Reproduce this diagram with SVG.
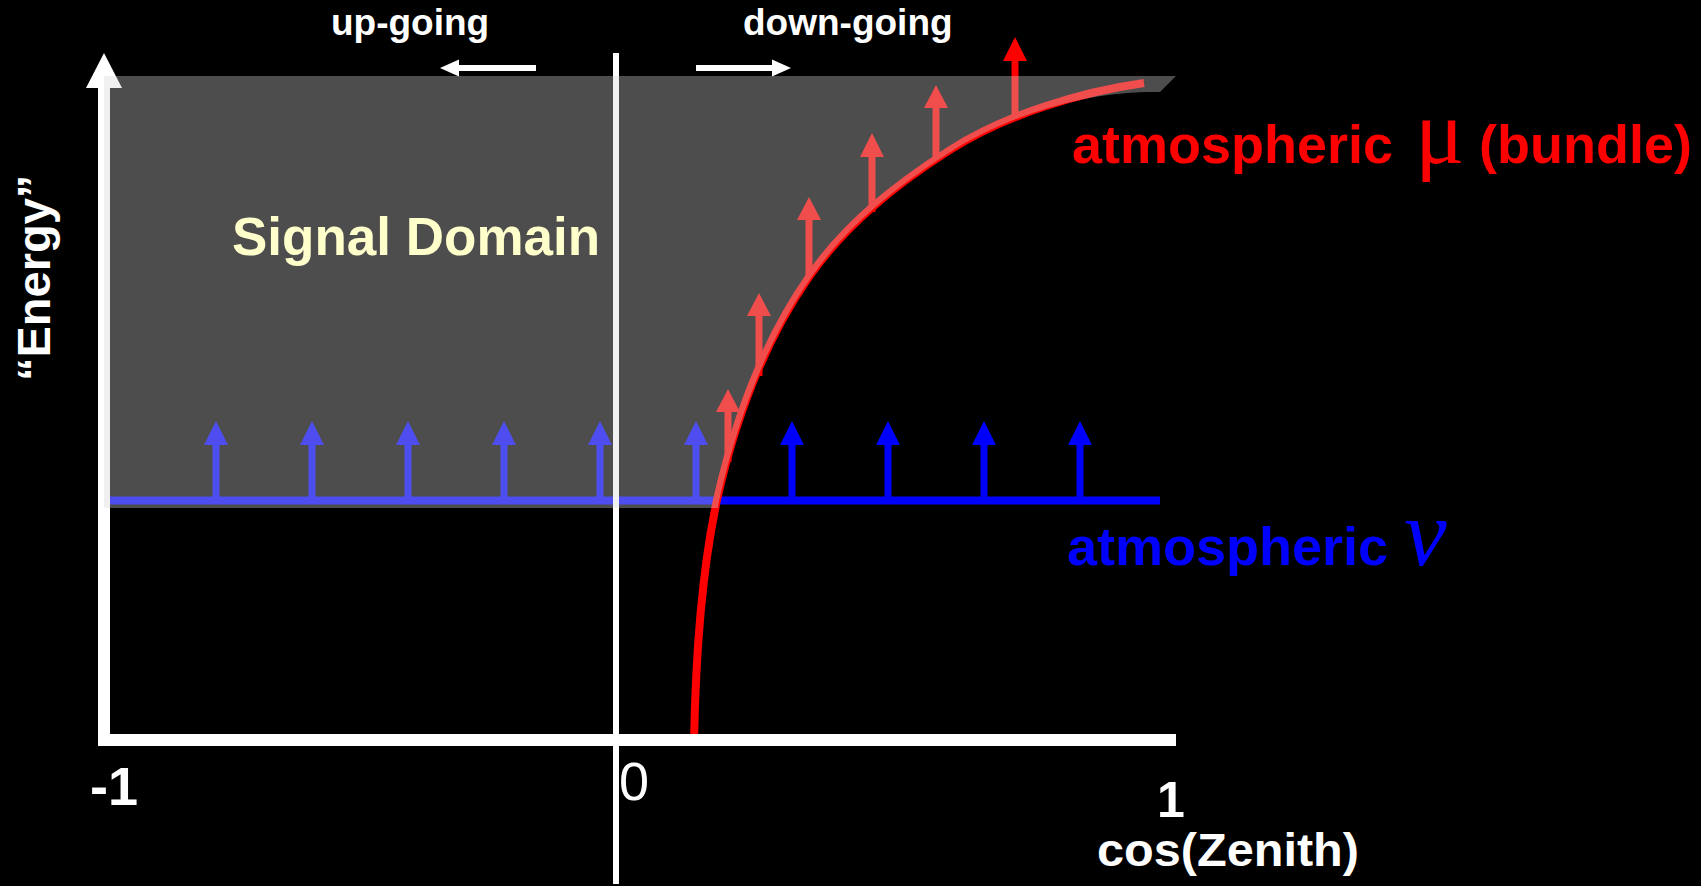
<svg xmlns="http://www.w3.org/2000/svg" width="1701" height="886" viewBox="0 0 1701 886">
<style>
  .sans { font-family: "Liberation Sans", Arial, sans-serif; font-weight: bold; }
  .serif { font-family: "Liberation Serif", "Times New Roman", serif; font-weight: normal; }
  .white { fill: #ffffff; }
</style>
<defs>
  <g id="blueArrow">
    <line x1="0" y1="500" x2="0" y2="443" stroke="#0000ff" stroke-width="7"/>
    <polygon points="0,421 12,445 -12,445" fill="#0000ff"/>
  </g>
</defs>
<rect x="0" y="0" width="1701" height="886" fill="#000000"/>

<g id="connectors">
  <!-- atmospheric neutrino level -->
  <line x1="104" y1="500.5" x2="1160" y2="500.5" stroke="#0000ff" stroke-width="8"/>
  <g id="nu-arrows">
    <use href="#blueArrow" x="216"/>
    <use href="#blueArrow" x="312"/>
    <use href="#blueArrow" x="408"/>
    <use href="#blueArrow" x="504"/>
    <use href="#blueArrow" x="600"/>
    <use href="#blueArrow" x="696"/>
    <use href="#blueArrow" x="792"/>
    <use href="#blueArrow" x="888"/>
    <use href="#blueArrow" x="984"/>
    <use href="#blueArrow" x="1080"/>
  </g>
  <!-- atmospheric muon curve -->
  <path d="M694,741 C696,640 704,560 717,500 C735,420 765,340 809,277 C845,225 895,185 950,150 C1005,115 1080,92 1144,83" fill="none" stroke="#ff0000" stroke-width="8"/>
  <g id="mu-arrows" fill="#ff0000" stroke="#ff0000">
    <line x1="728" y1="462" x2="728" y2="410" stroke-width="7"/>
    <polygon points="728,389 740,412 716,412" stroke="none"/>
    <line x1="759" y1="376" x2="759" y2="314" stroke-width="7"/>
    <polygon points="759,293 771,316 747,316" stroke="none"/>
    <line x1="809" y1="279" x2="809" y2="218" stroke-width="7"/>
    <polygon points="809,197 821,220 797,220" stroke="none"/>
    <line x1="872" y1="212" x2="872" y2="155" stroke-width="7"/>
    <polygon points="872,133 884,157 860,157" stroke="none"/>
    <line x1="936" y1="159" x2="936" y2="106" stroke-width="7"/>
    <polygon points="936,85 948,108 924,108" stroke="none"/>
    <line x1="1015" y1="117" x2="1015" y2="59" stroke-width="7"/>
    <polygon points="1015,37 1027,61 1003,61" stroke="none"/>
  </g>
</g>

<g id="axes">
  <line x1="616" y1="53" x2="616" y2="884" stroke="#ffffff" stroke-width="6"/>
  <line x1="104" y1="86" x2="104" y2="746" stroke="#ffffff" stroke-width="12"/>
  <polygon points="104,53 122,88 86,88" fill="#ffffff"/>
  <line x1="98" y1="740" x2="1176" y2="740" stroke="#ffffff" stroke-width="12"/>
</g>

<g id="signal-domain">
  <path d="M104,76 H1176 L1160,92 H1146 C1082,93 1007,116 952,151 C897,186 847,226 811,278 C767,341 737,421 719,501 L718,508 H104 Z" fill="#d5d5d5" fill-opacity="0.36"/>
  <text class="sans" x="232" y="255" font-size="53" fill="#ffffcc">Signal Domain</text>
</g>

<g id="direction">
  <line x1="536" y1="68" x2="456" y2="68" stroke="#ffffff" stroke-width="6"/>
  <polygon points="440,68 459,59.5 459,76.5" fill="#ffffff"/>
  <text class="sans white" x="331" y="35" font-size="37">up-going</text>
  <line x1="696" y1="68" x2="775" y2="68" stroke="#ffffff" stroke-width="6"/>
  <polygon points="791,68 772,59.5 772,76.5" fill="#ffffff"/>
  <text class="sans white" x="743" y="35" font-size="37">down-going</text>
</g>

<g id="labels">
  <text class="sans white" transform="translate(50,381) rotate(-90)" x="0" y="0" font-size="47">“Energy”</text>
  <text class="sans white" x="90" y="805" font-size="54">-1</text>
  <text class="white" x="619" y="800" font-size="54" style="font-family:'Liberation Sans', Arial, sans-serif">0</text>
  <text class="sans white" x="1171" y="817" font-size="50" text-anchor="middle">1</text>
  <text class="sans white" x="1097" y="866" font-size="47" textLength="262" lengthAdjust="spacingAndGlyphs">cos(Zenith)</text>
</g>

<g id="mu-label" fill="#ff0000">
  <text class="sans" x="1072" y="163" font-size="54">atmospheric</text>
  <text class="serif" x="1415" y="163" font-size="92">μ</text>
  <text class="sans" x="1479" y="163" font-size="54">(bundle)</text>
</g>

<g id="nu-label" fill="#0000ff">
  <text class="sans" x="1067" y="565" font-size="54">atmospheric</text>
  <text class="serif" x="1404" y="565" font-size="96" font-style="italic">ν</text>
</g>
</svg>
